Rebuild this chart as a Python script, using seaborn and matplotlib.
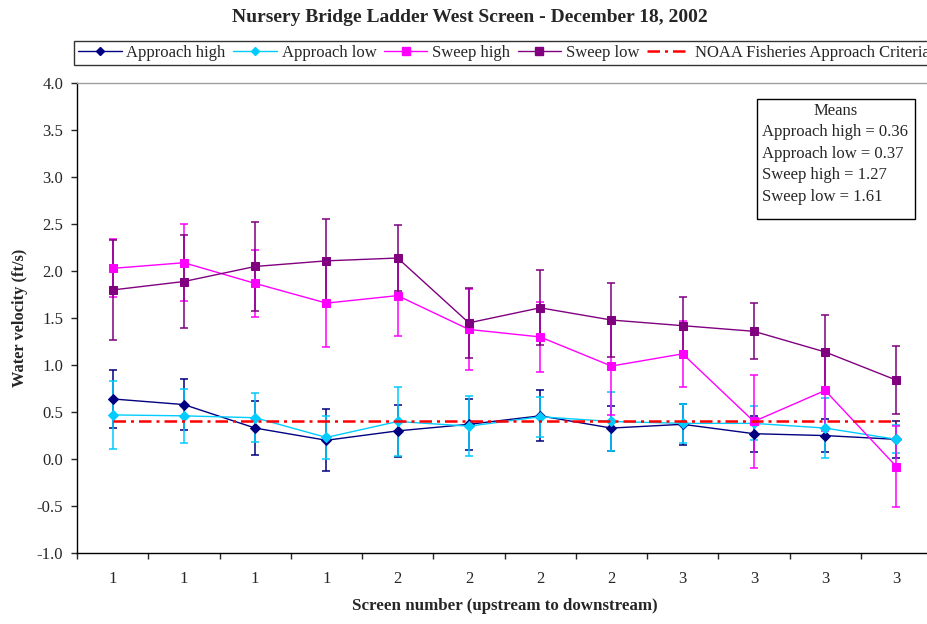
import matplotlib
matplotlib.use("Agg")
import matplotlib.pyplot as plt
from matplotlib.lines import Line2D
from matplotlib.patches import Rectangle
import numpy as np
import pandas as pd
import seaborn as sns

# Screen numbers along the ladder (upstream to downstream)
screen_labels = ["1", "1", "1", "1", "2", "2", "2", "2", "3", "3", "3", "3"]

# Mean water velocities (ft/s) at each screen position
approach_high = [0.64, 0.58, 0.33, 0.20, 0.30, 0.37, 0.46, 0.33, 0.37, 0.27, 0.25, 0.21]
approach_low = [0.47, 0.46, 0.44, 0.23, 0.40, 0.35, 0.45, 0.40, 0.38, 0.38, 0.33, 0.21]
sweep_high = [2.03, 2.09, 1.87, 1.66, 1.74, 1.38, 1.30, 0.99, 1.12, 0.40, 0.73, -0.08]
sweep_low = [1.80, 1.89, 2.05, 2.11, 2.14, 1.45, 1.61, 1.48, 1.42, 1.36, 1.14, 0.84]

# Error bar half-widths (ft/s)
approach_high_err = [0.31, 0.27, 0.29, 0.33, 0.28, 0.27, 0.27, 0.24, 0.22, 0.19, 0.18, 0.20]
approach_low_err = [0.36, 0.29, 0.26, 0.23, 0.37, 0.32, 0.21, 0.31, 0.21, 0.18, 0.32, 0.15]
sweep_high_err = [0.31, 0.41, 0.36, 0.47, 0.43, 0.43, 0.37, 0.52, 0.35, 0.49, 0.43, 0.43]
sweep_low_err = [0.53, 0.49, 0.47, 0.45, 0.35, 0.37, 0.40, 0.39, 0.30, 0.30, 0.39, 0.36]

# NOAA Fisheries approach velocity criterion (ft/s)
noaa_criterion = 0.40

means_lines = ["Approach high = 0.36", "Approach low = 0.37",
               "Sweep high = 1.27", "Sweep low = 1.61"]

series_names = ["Approach high", "Approach low", "Sweep high", "Sweep low"]
series_values = [approach_high, approach_low, sweep_high, sweep_low]
series_errors = [approach_high_err, approach_low_err, sweep_high_err, sweep_low_err]
colors = {"Approach high": "#000080", "Approach low": "#00CCFF",
          "Sweep high": "#FF00FF", "Sweep low": "#800080"}
markers = {"Approach high": "D", "Approach low": "D",
           "Sweep high": "s", "Sweep low": "s"}
msizes = {"Approach high": 5.0, "Approach low": 5.0,
          "Sweep high": 6.0, "Sweep low": 6.0}

positions = np.arange(len(screen_labels))
frames = []
for name, vals in zip(series_names, series_values):
    frames.append(pd.DataFrame({"pos": positions, "velocity": vals, "series": name}))
df = pd.concat(frames, ignore_index=True)

sns.set_style("ticks")
plt.rcParams["font.family"] = ["Liberation Serif", "DejaVu Serif"]
plt.rcParams["axes.linewidth"] = 1.0

W, H = 928, 624
fig = plt.figure(figsize=(W / 100, H / 100), dpi=100)
left_px, right_px, top_px, bottom_px = 77, 932, 83.3, 553
ax = fig.add_axes([left_px / W, 1 - bottom_px / H,
                   (right_px - left_px) / W, (bottom_px - top_px) / H])

# Error bars first, then lines and markers on top
for name, vals, errs in zip(series_names, series_values, series_errors):
    ax.errorbar(positions, vals, yerr=errs, fmt="none", ecolor=colors[name],
                elinewidth=1.1, capsize=3.0, capthick=1.1, zorder=2)

for name in series_names:
    sub = df[df["series"] == name]
    sns.lineplot(data=sub, x="pos", y="velocity", color=colors[name],
                 marker=markers[name], markersize=msizes[name],
                 markeredgecolor=colors[name], linewidth=1.0,
                 estimator=None, sort=False, ax=ax, legend=False, zorder=3)

ax.plot([positions[0], positions[-1]], [noaa_criterion, noaa_criterion],
        color="#FF0000", linewidth=1.8, linestyle=(0, (5, 2, 1.2, 2)), zorder=4)

# Axes limits and ticks
ax.set_xlim(-0.5, len(screen_labels) - 0.5)
ax.set_ylim(-1.0, 4.0)
ax.set_yticks(np.arange(-1.0, 4.01, 0.5))
ax.set_yticklabels([f"{v:.1f}" for v in np.arange(-1.0, 4.01, 0.5)])
ax.set_xticks(positions)
ax.set_xticklabels(screen_labels)
ax.set_xticks(np.arange(-0.5, len(screen_labels), 1.0), minor=True)
ax.tick_params(axis="x", which="major", length=0, pad=13, labelsize=12)
ax.tick_params(axis="x", which="minor", length=4, width=1.0, direction="out")
ax.tick_params(axis="y", which="major", length=4, width=1.0, pad=6,
               labelsize=12, direction="out")

for side in ("left", "bottom"):
    ax.spines[side].set_color("black")
ax.spines["top"].set_visible(True)
ax.spines["top"].set_color("#A0A0A0")
ax.spines["right"].set_visible(False)

ax.set_xlabel("")
ax.set_ylabel("")
fig.text((left_px + right_px) / 2 / W, 1 - 606 / H,
         "Screen number (upstream to downstream)", ha="center", va="center",
         fontsize=12.2, fontweight="bold")
fig.text(20 / W, 1 - 318 / H, "Water velocity (ft/s)", ha="center",
         va="center", rotation=90, fontsize=11.8, fontweight="bold")
fig.text(470 / W, 1 - 18 / H,
         "Nursery Bridge Ladder West Screen - December 18, 2002",
         ha="center", va="center", fontsize=14, fontweight="bold")

# Legend across the top
handles = [Line2D([], [], color=colors[n], marker=markers[n],
                  markersize=msizes[n] - 0.5, markeredgecolor=colors[n],
                  linewidth=1.0)
           for n in series_names]
handles.append(Line2D([], [], color="#FF0000", linewidth=1.8,
                      linestyle=(0, (5, 2, 1.2, 2))))
labels = series_names + ["NOAA Fisheries Approach Criteria"]
leg = fig.legend(handles, labels, loc="upper left",
                 bbox_to_anchor=(74 / W, 1 - 40.7 / H), ncol=5, frameon=True,
                 fancybox=False, edgecolor="black", fontsize=12,
                 borderpad=0.25, handlelength=2.6, handletextpad=0.3,
                 columnspacing=0.45, borderaxespad=0)
leg.get_frame().set_linewidth(1.0)

# Means box
bx0, by0, bx1, by1 = 757, 99, 915, 219
fig.patches.append(Rectangle((bx0 / W, 1 - by1 / H), (bx1 - bx0) / W,
                             (by1 - by0) / H, transform=fig.transFigure,
                             facecolor="white", edgecolor="black",
                             linewidth=1.0, zorder=5))
fig.text((bx0 + bx1) / 2 / W, 1 - 111 / H, "Means", ha="center", va="center",
         fontsize=12, zorder=6)
for i, line in enumerate(means_lines):
    fig.text(762 / W, 1 - (132 + 21.6 * i) / H, line, ha="left", va="center",
             fontsize=12, zorder=6)

fig.savefig("out.png", dpi=100)
